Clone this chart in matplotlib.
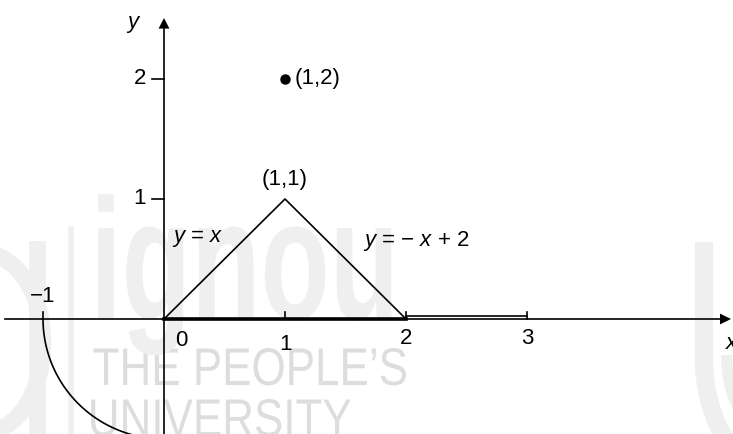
import numpy as np
import matplotlib
matplotlib.use("Agg")
import matplotlib.pyplot as plt
from matplotlib.patches import Arc, PathPatch
from matplotlib.textpath import TextPath
from matplotlib.font_manager import FontProperties
from matplotlib.transforms import Affine2D

plt.rcParams['font.family'] = ['Liberation Sans', 'DejaVu Sans']
plt.rcParams['mathtext.fontset'] = 'custom'
plt.rcParams['mathtext.rm'] = 'Liberation Sans'
plt.rcParams['mathtext.it'] = 'Liberation Sans:italic'

# data
tri_x = [0, 1, 2]
tri_y = [0, 1, 0]
point = (1, 2)
seg_x = [2, 3]
seg_y = [0.025, 0.025]
xticks = [-1, 1, 2, 3]
yticks = [1, 2]
xtick_labels = ["0", "1", "2", "3"]
ytick_labels = ["1", "2"]
arc_radius = 1.0
arc_theta = np.linspace(np.pi, 1.5 * np.pi, 200)

fig = plt.figure(figsize=(7.33, 4.34), dpi=100)
ax = fig.add_axes([0, 0, 1, 1])
ax.set_xlim(-1.3554, 4.7025)
ax.set_ylim(-0.9583, 2.6583)
ax.axis('off')

PX_X = 1 / 121.0  # data units per pixel
PX_Y = 1 / 120.0


def watermark(text, x, y, em_px, squeeze, color, weight='normal'):
    prop = FontProperties(family='Liberation Sans', weight=weight)
    tp = TextPath((0, 0), text, size=em_px, prop=prop)
    tr = Affine2D().scale(squeeze * PX_X, PX_Y).translate(x, y)
    ax.add_patch(PathPatch(tr.transform_path(tp), facecolor=color, edgecolor='none', zorder=0))


# watermark
wm = '#dddddd'
wl = '#efefef'
watermark("THE PEOPLE\u2019S", -0.59, -0.55, 53, 0.83, wm)
watermark("UNIVERSITY", -0.63, -0.975, 53, 0.83, wm)
watermark("ignou", -0.61, 0.0, 172, 0.66, wl, weight='bold')
ax.plot([-0.77, -0.77], [-0.96, 0.75], color=wl, lw=4, zorder=0)
ax.plot([-1.05, -1.05], [-0.96, 0.58], color=wl, lw=12, zorder=0)
ax.plot([4.46, 4.46], [-0.3, 0.57], color=wl, lw=13, zorder=0)
ax.add_patch(Arc((4.95, -0.3), 0.98, 1.8, theta1=180, theta2=270, color=wl, lw=13, zorder=0))
ax.add_patch(Arc((4.95, -0.3), 0.6, 1.2, theta1=180, theta2=270, color=wl, lw=8, zorder=0))
ax.add_patch(Arc((-1.5, -0.2), 1.0, 1.5, theta1=-90, theta2=90, color=wl, lw=12, zorder=0))

lw = 1.2
# axes
ax.plot([-1.314, 4.60], [0, 0], color='black', lw=lw)
ax.fill([4.595, 4.686, 4.595], [0.045, 0, -0.045], color='black', lw=0)
ax.plot([0, 0], [-0.96, 2.42], color='black', lw=lw)
ax.fill([-0.045, 0, 0.045], [2.42, 2.508, 2.42], color='black', lw=0)

# ticks
for t in xticks:
    ax.plot([t, t], [0, 0.06], color='black', lw=lw)
for t in yticks:
    ax.plot([-0.1, 0], [t, t], color='black', lw=lw)

# thick segment on x-axis
ax.plot([0, 2], [0, 0], color='black', lw=2.6)
ax.plot(seg_x, seg_y, color='black', lw=lw)

# triangle
ax.plot(tri_x, tri_y, color='black', lw=lw)
# point
ax.plot([point[0]], [point[1]], 'o', color='black', ms=6.5)

# arc
ax.plot(arc_radius * np.cos(arc_theta), arc_radius * np.sin(arc_theta), color='black', lw=lw)

fs = 16
ax.text(0.14, -0.175, xtick_labels[0], fontsize=fs, ha='center', va='center')
ax.text(1.0, -0.21, xtick_labels[1], fontsize=fs, ha='center', va='center')
ax.text(2.0, -0.165, xtick_labels[2], fontsize=fs, ha='center', va='center')
ax.text(3.0, -0.165, xtick_labels[3], fontsize=fs, ha='center', va='center')
ax.text(-1.0, 0.19, "\u22121", fontsize=fs, ha='center', va='center')
ax.text(-0.2, 1, ytick_labels[0], fontsize=fs, ha='center', va='center')
ax.text(-0.2, 2, ytick_labels[1], fontsize=fs, ha='center', va='center')
ax.text(-0.26, 2.47, "y", fontsize=fs, ha='center', va='center', style='italic')
ax.text(4.69, -0.2, "x", fontsize=fs, ha='center', va='center', style='italic')
ax.text(1.08, 2, "(1,2)", fontsize=fs, ha='left', va='center')
ax.text(1.0, 1.16, "(1,1)", fontsize=fs, ha='center', va='center')
ax.text(0.066, 0.675, "$y$ = $x$", fontsize=fs, ha='left', va='center')
ax.text(1.645, 0.65, "$y$ = \u2212 $x$ + 2", fontsize=fs, ha='left', va='center')

fig.savefig("out.png", dpi=100)
